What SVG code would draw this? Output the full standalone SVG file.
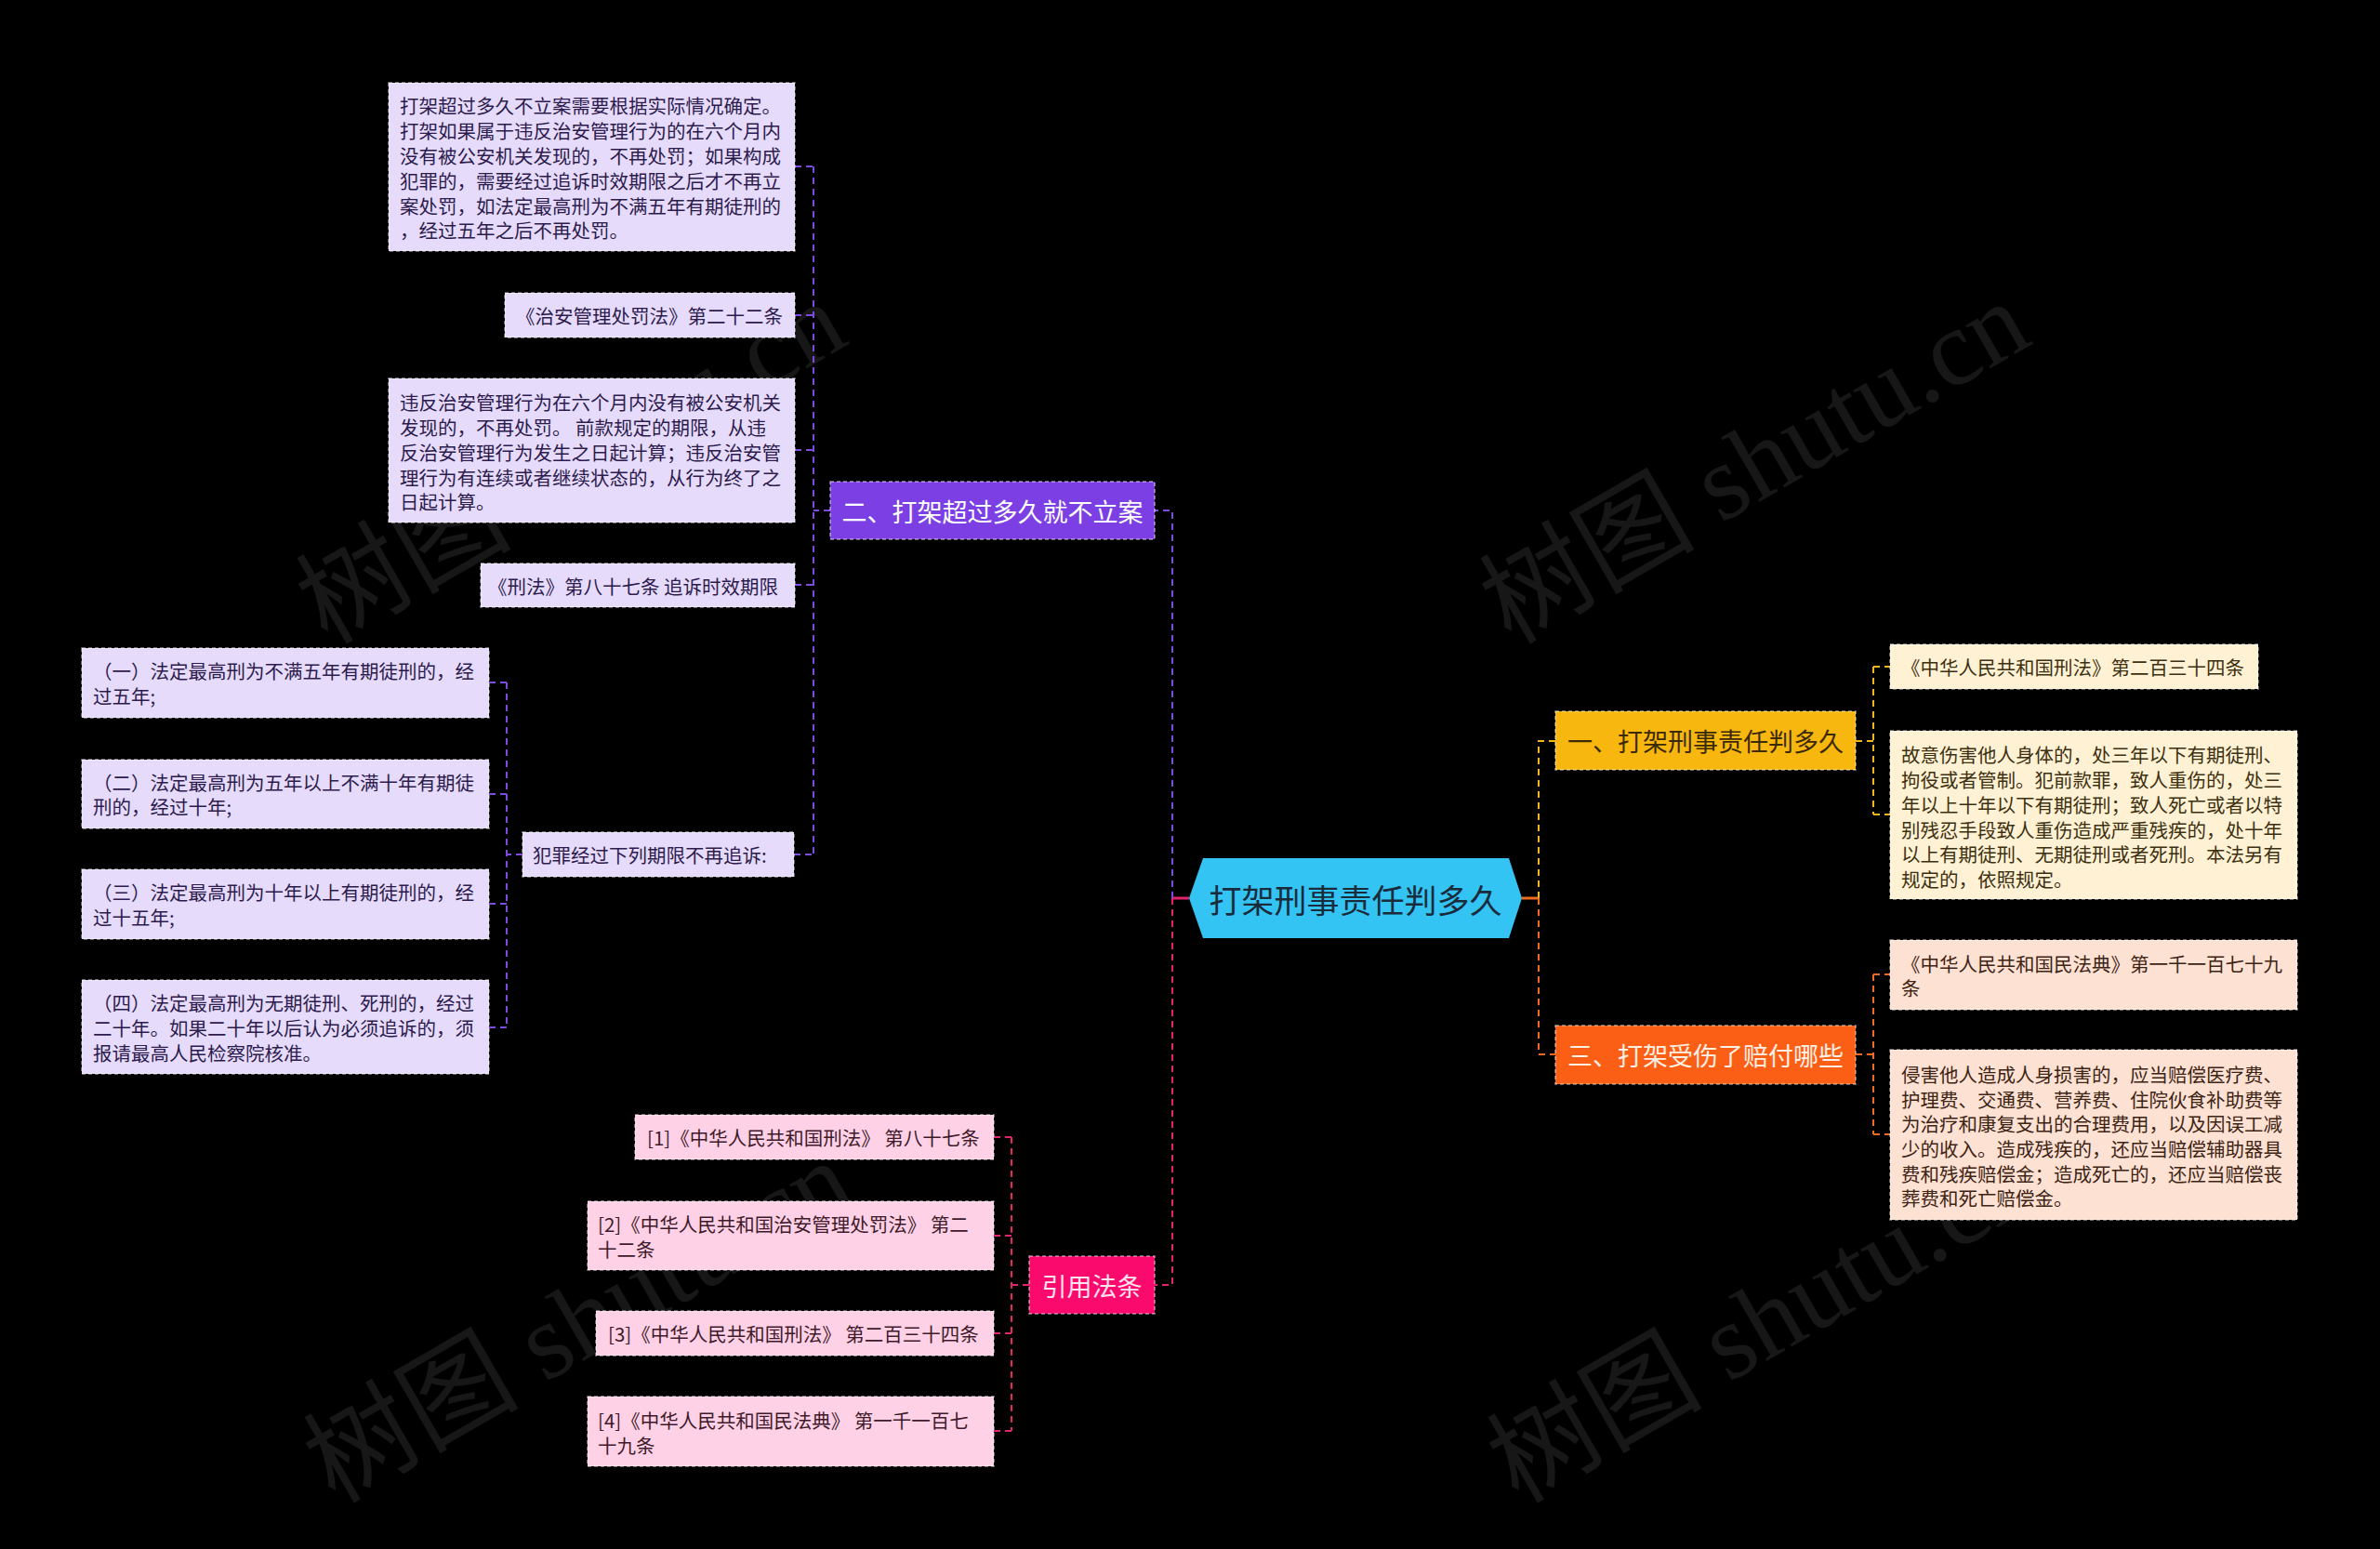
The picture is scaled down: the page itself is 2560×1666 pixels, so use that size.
<svg xmlns="http://www.w3.org/2000/svg" width="2560" height="1666" viewBox="0 0 2560 1666">
<style>
text{font-family:"Noto Sans CJK SC","Noto Sans",sans-serif;}
.wm{font-family:"Liberation Serif","Noto Sans CJK SC",serif;font-size:116px;fill:#ffffff;fill-opacity:.09;}
.bx{stroke:#ffffff;stroke-opacity:.55;stroke-width:1.5;stroke-dasharray:4 3;}
.lf{font-size:20.5px;dominant-baseline:central;}
.br{font-size:27px;dominant-baseline:central;text-anchor:middle;}
.c{fill:none;stroke-width:2;stroke-dasharray:7 5;}
.cp{stroke:#7e4be0}.ck{stroke:#e3236d}.cy{stroke:#f3b51c}.co{stroke:#f06a22}
.pl{fill:#e6dbfa}.pt{fill:#2d1b4e}
.yl{fill:#fff2d4}.yt{fill:#3d3010}
.ol{fill:#fde1d3}.ot{fill:#3d2414}
.kl{fill:#ffd1e6}.kt{fill:#3e1a2a}
</style>
<rect width="2560" height="1666" fill="#000"/>
<g id="watermarks">
<text class="wm" transform="translate(352,694) rotate(-30)">树图 shutu.cn</text>
<text class="wm" transform="translate(1625,694) rotate(-30)">树图 shutu.cn</text>
<text class="wm" transform="translate(360,1618) rotate(-30)">树图 shutu.cn</text>
<text class="wm" transform="translate(1633,1618) rotate(-30)">树图 shutu.cn</text>
</g>
<g id="connectors">
<path d="M1279,966 H1261" stroke="#e3236d" stroke-width="3" fill="none"/>
<path d="M1637,966 H1655" stroke="#f06a22" stroke-width="3" fill="none"/>
<path class="c cp" d="M1261,966 V549 H1242"/>
<path class="c ck" d="M1261,966 V1382 H1242"/>
<path class="c cy" d="M1655,966 V797 H1673"/>
<path class="c co" d="M1655,966 V1134 H1673"/>
<path class="c cp" d="M893,549 H875 M875,179 V919 M855,179 H875 M855,339 H875 M855,484 H875 M855,629 H875 M854,919 H875"/>
<path class="c cp" d="M562,919 H545 M545,734 V1105 M526,734 H545 M526,854 H545 M526,972 H545 M526,1105 H545"/>
<path class="c cy" d="M1996,797 H2015 M2015,717 V876 M2015,717 H2033 M2015,876 H2033"/>
<path class="c co" d="M1996,1134 H2015 M2015,1048 V1220 M2015,1048 H2033 M2015,1220 H2033"/>
<path class="c ck" d="M1107,1382 H1088 M1088,1223 V1539 M1069,1223 H1088 M1069,1329 H1088 M1069,1434 H1088 M1069,1539 H1088"/>
</g>
<g id="root">
<polygon points="1279,966 1294,923 1623,923 1637,966 1623,1009 1294,1009" fill="#33c4f3"/>
<text x="1458" y="966" font-size="35" fill="#1a2b3b" text-anchor="middle" dominant-baseline="central">打架刑事责任判多久</text>
</g>
<g id="b2">
<rect class="bx" x="893" y="518" width="349" height="62" fill="#7c3fe4"/>
<text class="br" x="1067.5" y="549" fill="#ffffff">二、打架超过多久就不立案</text>
</g>
<g id="b2-1">
<rect class="bx pl" x="418" y="89" width="437" height="181"/>
<text class="lf pt" x="430"><tspan x="430" y="113">打架超过多久不立案需要根据实际情况确定。</tspan><tspan x="430" y="140">打架如果属于违反治安管理行为的在六个月内</tspan><tspan x="430" y="167">没有被公安机关发现的，不再处罚；如果构成</tspan><tspan x="430" y="194">犯罪的，需要经过追诉时效期限之后才不再立</tspan><tspan x="430" y="221">案处罚，如法定最高刑为不满五年有期徒刑的</tspan><tspan x="430" y="247">，经过五年之后不再处罚。</tspan></text>
</g>
<g id="b2-2">
<rect class="bx pl" x="543" y="315" width="312" height="48"/>
<text class="lf pt" x="555" y="339">《治安管理处罚法》第二十二条</text>
</g>
<g id="b2-3">
<rect class="bx pl" x="418" y="407" width="437" height="155"/>
<text class="lf pt" x="430"><tspan x="430" y="432">违反治安管理行为在六个月内没有被公安机关</tspan><tspan x="430" y="459">发现的，不再处罚。 前款规定的期限，从违</tspan><tspan x="430" y="486">反治安管理行为发生之日起计算；违反治安管</tspan><tspan x="430" y="513">理行为有连续或者继续状态的，从行为终了之</tspan><tspan x="430" y="539">日起计算。</tspan></text>
</g>
<g id="b2-4">
<rect class="bx pl" x="517" y="606" width="338" height="47"/>
<text class="lf pt" x="525" y="629.5">《刑法》第八十七条 追诉时效期限</text>
</g>
<g id="b2-5">
<rect class="bx pl" x="562" y="895" width="292" height="48"/>
<text class="lf pt" x="573" y="919">犯罪经过下列期限不再追诉:</text>
</g>
<g id="b2-5-1">
<rect class="bx pl" x="88" y="697" width="438" height="75"/>
<text class="lf pt"><tspan x="100" y="721">（一）法定最高刑为不满五年有期徒刑的，经</tspan><tspan x="100" y="748">过五年;</tspan></text>
</g>
<g id="b2-5-2">
<rect class="bx pl" x="88" y="817" width="438" height="74"/>
<text class="lf pt"><tspan x="100" y="841">（二）法定最高刑为五年以上不满十年有期徒</tspan><tspan x="100" y="867">刑的，经过十年;</tspan></text>
</g>
<g id="b2-5-3">
<rect class="bx pl" x="88" y="935" width="438" height="75"/>
<text class="lf pt"><tspan x="100" y="959">（三）法定最高刑为十年以上有期徒刑的，经</tspan><tspan x="100" y="986">过十五年;</tspan></text>
</g>
<g id="b2-5-4">
<rect class="bx pl" x="88" y="1054" width="438" height="101"/>
<text class="lf pt"><tspan x="100" y="1078">（四）法定最高刑为无期徒刑、死刑的，经过</tspan><tspan x="100" y="1105">二十年。如果二十年以后认为必须追诉的，须</tspan><tspan x="100" y="1132">报请最高人民检察院核准。</tspan></text>
</g>
<g id="b1">
<rect class="bx" x="1673" y="765" width="323" height="63" fill="#f8b70f"/>
<text class="br" x="1834.5" y="796.5" fill="#3b2a05">一、打架刑事责任判多久</text>
</g>
<g id="b1-1">
<rect class="bx yl" x="2033" y="693" width="396" height="48"/>
<text class="lf yt" x="2045" y="717">《中华人民共和国刑法》第二百三十四条</text>
</g>
<g id="b1-2">
<rect class="bx yl" x="2033" y="786" width="438" height="181"/>
<text class="lf yt"><tspan x="2045" y="811">故意伤害他人身体的，处三年以下有期徒刑、</tspan><tspan x="2045" y="838">拘役或者管制。犯前款罪，致人重伤的，处三</tspan><tspan x="2045" y="865">年以上十年以下有期徒刑；致人死亡或者以特</tspan><tspan x="2045" y="892">别残忍手段致人重伤造成严重残疾的，处十年</tspan><tspan x="2045" y="918">以上有期徒刑、无期徒刑或者死刑。本法另有</tspan><tspan x="2045" y="945">规定的，依照规定。</tspan></text>
</g>
<g id="b3">
<rect class="bx" x="1673" y="1103" width="323" height="63" fill="#fb5f15"/>
<text class="br" x="1834.5" y="1134.5" fill="#fff0e6">三、打架受伤了赔付哪些</text>
</g>
<g id="b3-1">
<rect class="bx ol" x="2033" y="1011" width="438" height="75"/>
<text class="lf ot"><tspan x="2045" y="1036">《中华人民共和国民法典》第一千一百七十九</tspan><tspan x="2045" y="1062">条</tspan></text>
</g>
<g id="b3-2">
<rect class="bx ol" x="2033" y="1129" width="438" height="183"/>
<text class="lf ot"><tspan x="2045" y="1155">侵害他人造成人身损害的，应当赔偿医疗费、</tspan><tspan x="2045" y="1182">护理费、交通费、营养费、住院伙食补助费等</tspan><tspan x="2045" y="1208">为治疗和康复支出的合理费用，以及因误工减</tspan><tspan x="2045" y="1235">少的收入。造成残疾的，还应当赔偿辅助器具</tspan><tspan x="2045" y="1262">费和残疾赔偿金；造成死亡的，还应当赔偿丧</tspan><tspan x="2045" y="1288">葬费和死亡赔偿金。</tspan></text>
</g>
<g id="b4">
<rect class="bx" x="1107" y="1351" width="135" height="62" fill="#fb0a6e"/>
<text class="br" x="1174.5" y="1382" fill="#ffe4f0">引用法条</text>
</g>
<g id="b4-1">
<rect class="bx kl" x="683" y="1199" width="386" height="48"/>
<text class="lf kt" x="696" y="1223">[1]《中华人民共和国刑法》 第八十七条</text>
</g>
<g id="b4-2">
<rect class="bx kl" x="632" y="1292" width="437" height="74"/>
<text class="lf kt"><tspan x="643" y="1316">[2]《中华人民共和国治安管理处罚法》 第二</tspan><tspan x="643" y="1343">十二条</tspan></text>
</g>
<g id="b4-3">
<rect class="bx kl" x="641" y="1410" width="428" height="48"/>
<text class="lf kt" x="654" y="1434">[3]《中华人民共和国刑法》 第二百三十四条</text>
</g>
<g id="b4-4">
<rect class="bx kl" x="632" y="1502" width="437" height="75"/>
<text class="lf kt"><tspan x="643" y="1527">[4]《中华人民共和国民法典》 第一千一百七</tspan><tspan x="643" y="1554">十九条</tspan></text>
</g>
</svg>
